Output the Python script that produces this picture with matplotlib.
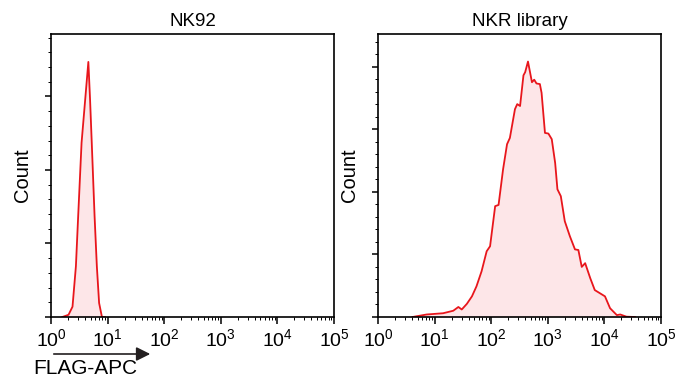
import numpy as np
import matplotlib
matplotlib.use("Agg")
import matplotlib.pyplot as plt
from matplotlib.ticker import LogLocator, MultipleLocator, NullFormatter

plt.rcParams['font.family'] = ['Liberation Sans', 'DejaVu Sans']
plt.rcParams['mathtext.fontset'] = 'custom'
plt.rcParams['mathtext.rm'] = 'Liberation Sans'
plt.rcParams['mathtext.it'] = 'Liberation Sans'

# log10(FLAG-APC) vs count (arbitrary units)
nk92_log = [0.20, 0.31, 0.38, 0.44, 0.48, 0.54, 0.60, 0.66, 0.69, 0.72,
            0.77, 0.81, 0.85, 0.90, 0.95]
nk92_count = [0.0, 0.03, 0.14, 0.69, 1.37, 2.37, 2.92, 3.47, 2.96, 2.37,
              1.37, 0.69, 0.19, 0.0, 0.0]

nkr_log = [0.61, 0.86, 1.15, 1.33, 1.42, 1.48, 1.57, 1.66, 1.74, 1.83,
           1.92, 1.98, 2.07, 2.13, 2.21, 2.28, 2.33, 2.42, 2.46, 2.51,
           2.57, 2.60, 2.65, 2.72, 2.76, 2.80, 2.86, 2.89, 2.95, 3.01,
           3.07, 3.13, 3.17, 3.23, 3.30, 3.39, 3.48, 3.54, 3.60, 3.66,
           3.75, 3.83, 3.92, 4.01, 4.10, 4.22, 4.28, 4.39, 4.54]
nkr_count = [0.0, 0.04, 0.06, 0.10, 0.16, 0.12, 0.21, 0.33, 0.49, 0.73,
             1.05, 1.13, 1.77, 1.79, 2.36, 2.76, 2.86, 3.32, 3.40, 3.37,
             3.86, 3.91, 4.08, 3.75, 3.79, 3.73, 3.72, 3.58, 2.94, 2.93,
             2.84, 2.46, 2.04, 1.93, 1.53, 1.29, 1.08, 1.07, 0.80, 0.86,
             0.62, 0.43, 0.38, 0.33, 0.14, 0.03, 0.04, 0.005, 0.0]

titles = ["NK92", "NKR library"]
xlabel = "FLAG-APC"

line_c = '#e8161c'
fill_c = '#fde6e8'

fig = plt.figure(figsize=(6.75, 3.78), dpi=100)
W, H = 675.0, 378.0
ax1 = fig.add_axes([51/W, 61/H, 283/W, 283/H])
ax2 = fig.add_axes([378/W, 61/H, 283/W, 283/H])

panels = [(ax1, nk92_log, nk92_count, 3.85),
          (ax2, nkr_log, nkr_count, 4.52)]

for (ax, lx, cnt, top), title in zip(panels, titles):
    x = 10 ** np.array(lx)
    ax.fill_between(x, cnt, 0, color=fill_c, lw=0, zorder=1)
    ax.plot(x, cnt, color=line_c, lw=1.3, zorder=2)
    ax.set_xscale('log')
    ax.set_xlim(1, 1e5)
    ax.set_ylim(0, top)
    ax.xaxis.set_major_locator(LogLocator(base=10, numticks=10))
    ax.xaxis.set_minor_locator(LogLocator(base=10, subs=np.arange(2, 10), numticks=10))
    ax.xaxis.set_minor_formatter(NullFormatter())
    ax.yaxis.set_major_locator(MultipleLocator(1))
    ax.yaxis.set_minor_locator(MultipleLocator(0.2))
    ax.set_yticklabels([])
    ax.tick_params(axis='x', which='major', length=5, width=1.1, labelsize=14, pad=3)
    ax.tick_params(axis='x', which='minor', length=2.5, width=0.7)
    ax.tick_params(axis='y', which='major', length=4, width=1.1)
    ax.tick_params(axis='y', which='minor', length=2, width=0.7)
    for sp in ax.spines.values():
        sp.set_linewidth(1.2)
    ax.set_title(title, fontsize=13.5, pad=6)
    ax.set_ylabel("Count", fontsize=14.5, labelpad=6)

# axis arrow and label under the left panel
fig.patches.append(matplotlib.patches.FancyArrowPatch(
    (51/W, 1 - 354/H), (153/W, 1 - 354/H), transform=fig.transFigure,
    arrowstyle='-|>,head_length=0.7,head_width=0.35', mutation_scale=12,
    color='#231f20', lw=1.2))
fig.text(33/W, 1 - 369/H, xlabel, fontsize=15, ha='left', va='center')

fig.savefig("out.png", dpi=100)
